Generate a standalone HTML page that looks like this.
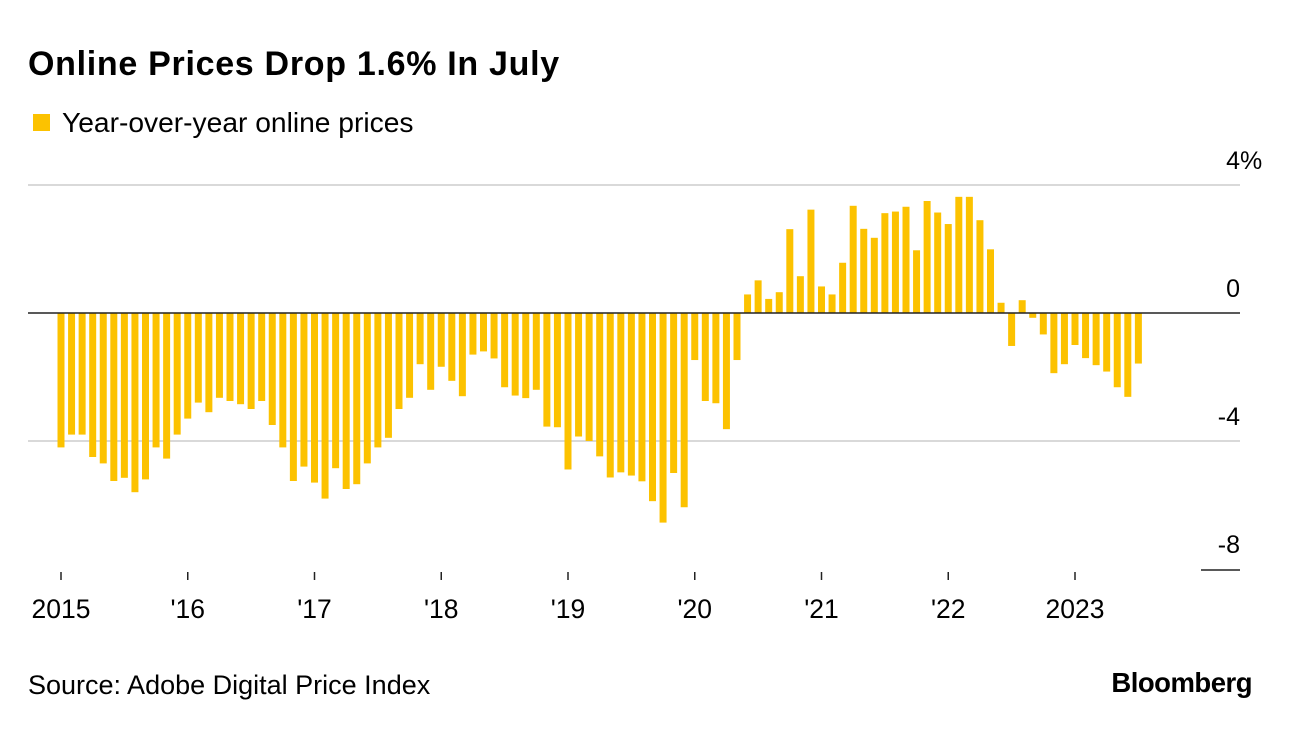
<!DOCTYPE html>
<html><head><meta charset="utf-8"><style>
body{margin:0;background:#fff;width:1292px;height:726px;overflow:hidden;font-family:"Liberation Sans",sans-serif;}
</style></head><body>
<svg width="1292" height="726" xmlns="http://www.w3.org/2000/svg">
<text x="28" y="75" font-size="34" font-weight="bold" fill="#000" letter-spacing="0.7">Online Prices Drop 1.6% In July</text>
<rect x="33" y="114" width="17" height="17" fill="#fcc200"/>
<text x="62" y="132" font-size="28.2" fill="#000">Year-over-year online prices</text>
<g id="grid"></g>
<g id="bars"></g>
<g id="axes"></g>
<text x="28" y="694" font-size="27" fill="#000">Source: Adobe Digital Price Index</text>
<text x="1252" y="692" font-size="27.5" font-weight="bold" fill="#000" text-anchor="end" letter-spacing="-0.5">Bloomberg</text>
</svg>
<script>
const values = [
-4.2,-3.8,-3.8,-4.5,-4.7,-5.25,-5.15,-5.6,-5.2,-4.2,-4.55,-3.8,
-3.3,-2.8,-3.1,-2.65,-2.75,-2.85,-3.0,-2.75,-3.5,-4.2,-5.25,-4.8,
-5.3,-5.8,-4.85,-5.5,-5.35,-4.7,-4.2,-3.9,-3.0,-2.65,-1.6,-2.4,
-1.68,-2.12,-2.6,-1.3,-1.2,-1.42,-2.32,-2.58,-2.66,-2.4,-3.55,-3.57,
-4.89,-3.86,-4.0,-4.48,-5.14,-4.98,-5.08,-5.26,-5.88,-6.55,-5.0,-6.07,
-1.47,-2.75,-2.82,-3.63,-1.47,0.58,1.02,0.44,0.65,2.62,1.15,3.23,
0.83,0.58,1.57,3.35,2.63,2.35,3.12,3.17,3.32,1.96,3.5,3.14,
2.78,3.63,3.63,2.9,1.99,0.32,-1.03,0.4,-0.15,-0.67,-1.88,-1.6,
-1.0,-1.41,-1.63,-1.83,-2.32,-2.62,-1.58
];
const yTicks = [4,0,-4,-8];
const yTickLabels = ["4","0","-4","-8"];
const xYears = [2015,2016,2017,2018,2019,2020,2021,2022,2023];
const xLabels = ["2015","'16","'17","'18","'19","'20","'21","'22","2023"];
const NS="http://www.w3.org/2000/svg";
const y = v => 313 - v*32;
const xMonth = i => 61 + i*(126.75/12);
const xYear = yr => xMonth((yr-2015)*12);
function mk(tag, attrs, parent){const e=document.createElementNS(NS,tag);for(const k in attrs)e.setAttribute(k,attrs[k]);parent.appendChild(e);return e;}
const grid=document.getElementById('grid'), bars=document.getElementById('bars'), axes=document.getElementById('axes');
yTicks.forEach((t,i)=>{
  if(t!==0 && t!==-8){
    const l=mk('line',{x1:28,x2:1240,y1:y(t),y2:y(t),stroke:'#d9d9d9','stroke-width':2},grid);
    
    
  }
  const tx=mk('text',{x:1240,y:y(t)-16,'font-size':25,'text-anchor':'end',fill:'#000'},axes);
  tx.textContent=yTickLabels[i];
  
  
  if(i===0){
    const pc=mk('text',{x:1240,y:y(t)-16,'font-size':25,'text-anchor':'start',fill:'#000'},axes);
    pc.textContent='%';
    
    
  }
});
values.forEach((v,i)=>{
  const x=xMonth(i);
  const r=mk('rect',{x:x-3.5,width:7,y:Math.min(y(v),y(0)),height:Math.abs(y(v)-y(0)),fill:'#fcc200'},bars);
  
  
});
const z=mk('line',{x1:28,x2:1240,y1:y(0),y2:y(0),stroke:'#222','stroke-width':1.5},axes);


const b=mk('line',{x1:1201,x2:1240,y1:y(-8)+1,y2:y(-8)+1,stroke:'#222','stroke-width':1.5},axes);


xYears.forEach((yr,i)=>{
  const x=xYear(yr);
  const tk=mk('line',{x1:x,x2:x,y1:572,y2:580,stroke:'#222','stroke-width':1.5},axes);
  
  
  const t=mk('text',{x:x,y:618,'font-size':26.5,'text-anchor':'middle',fill:'#000'},axes);
  t.textContent=xLabels[i];
  
  
});
</script>
</body></html>
